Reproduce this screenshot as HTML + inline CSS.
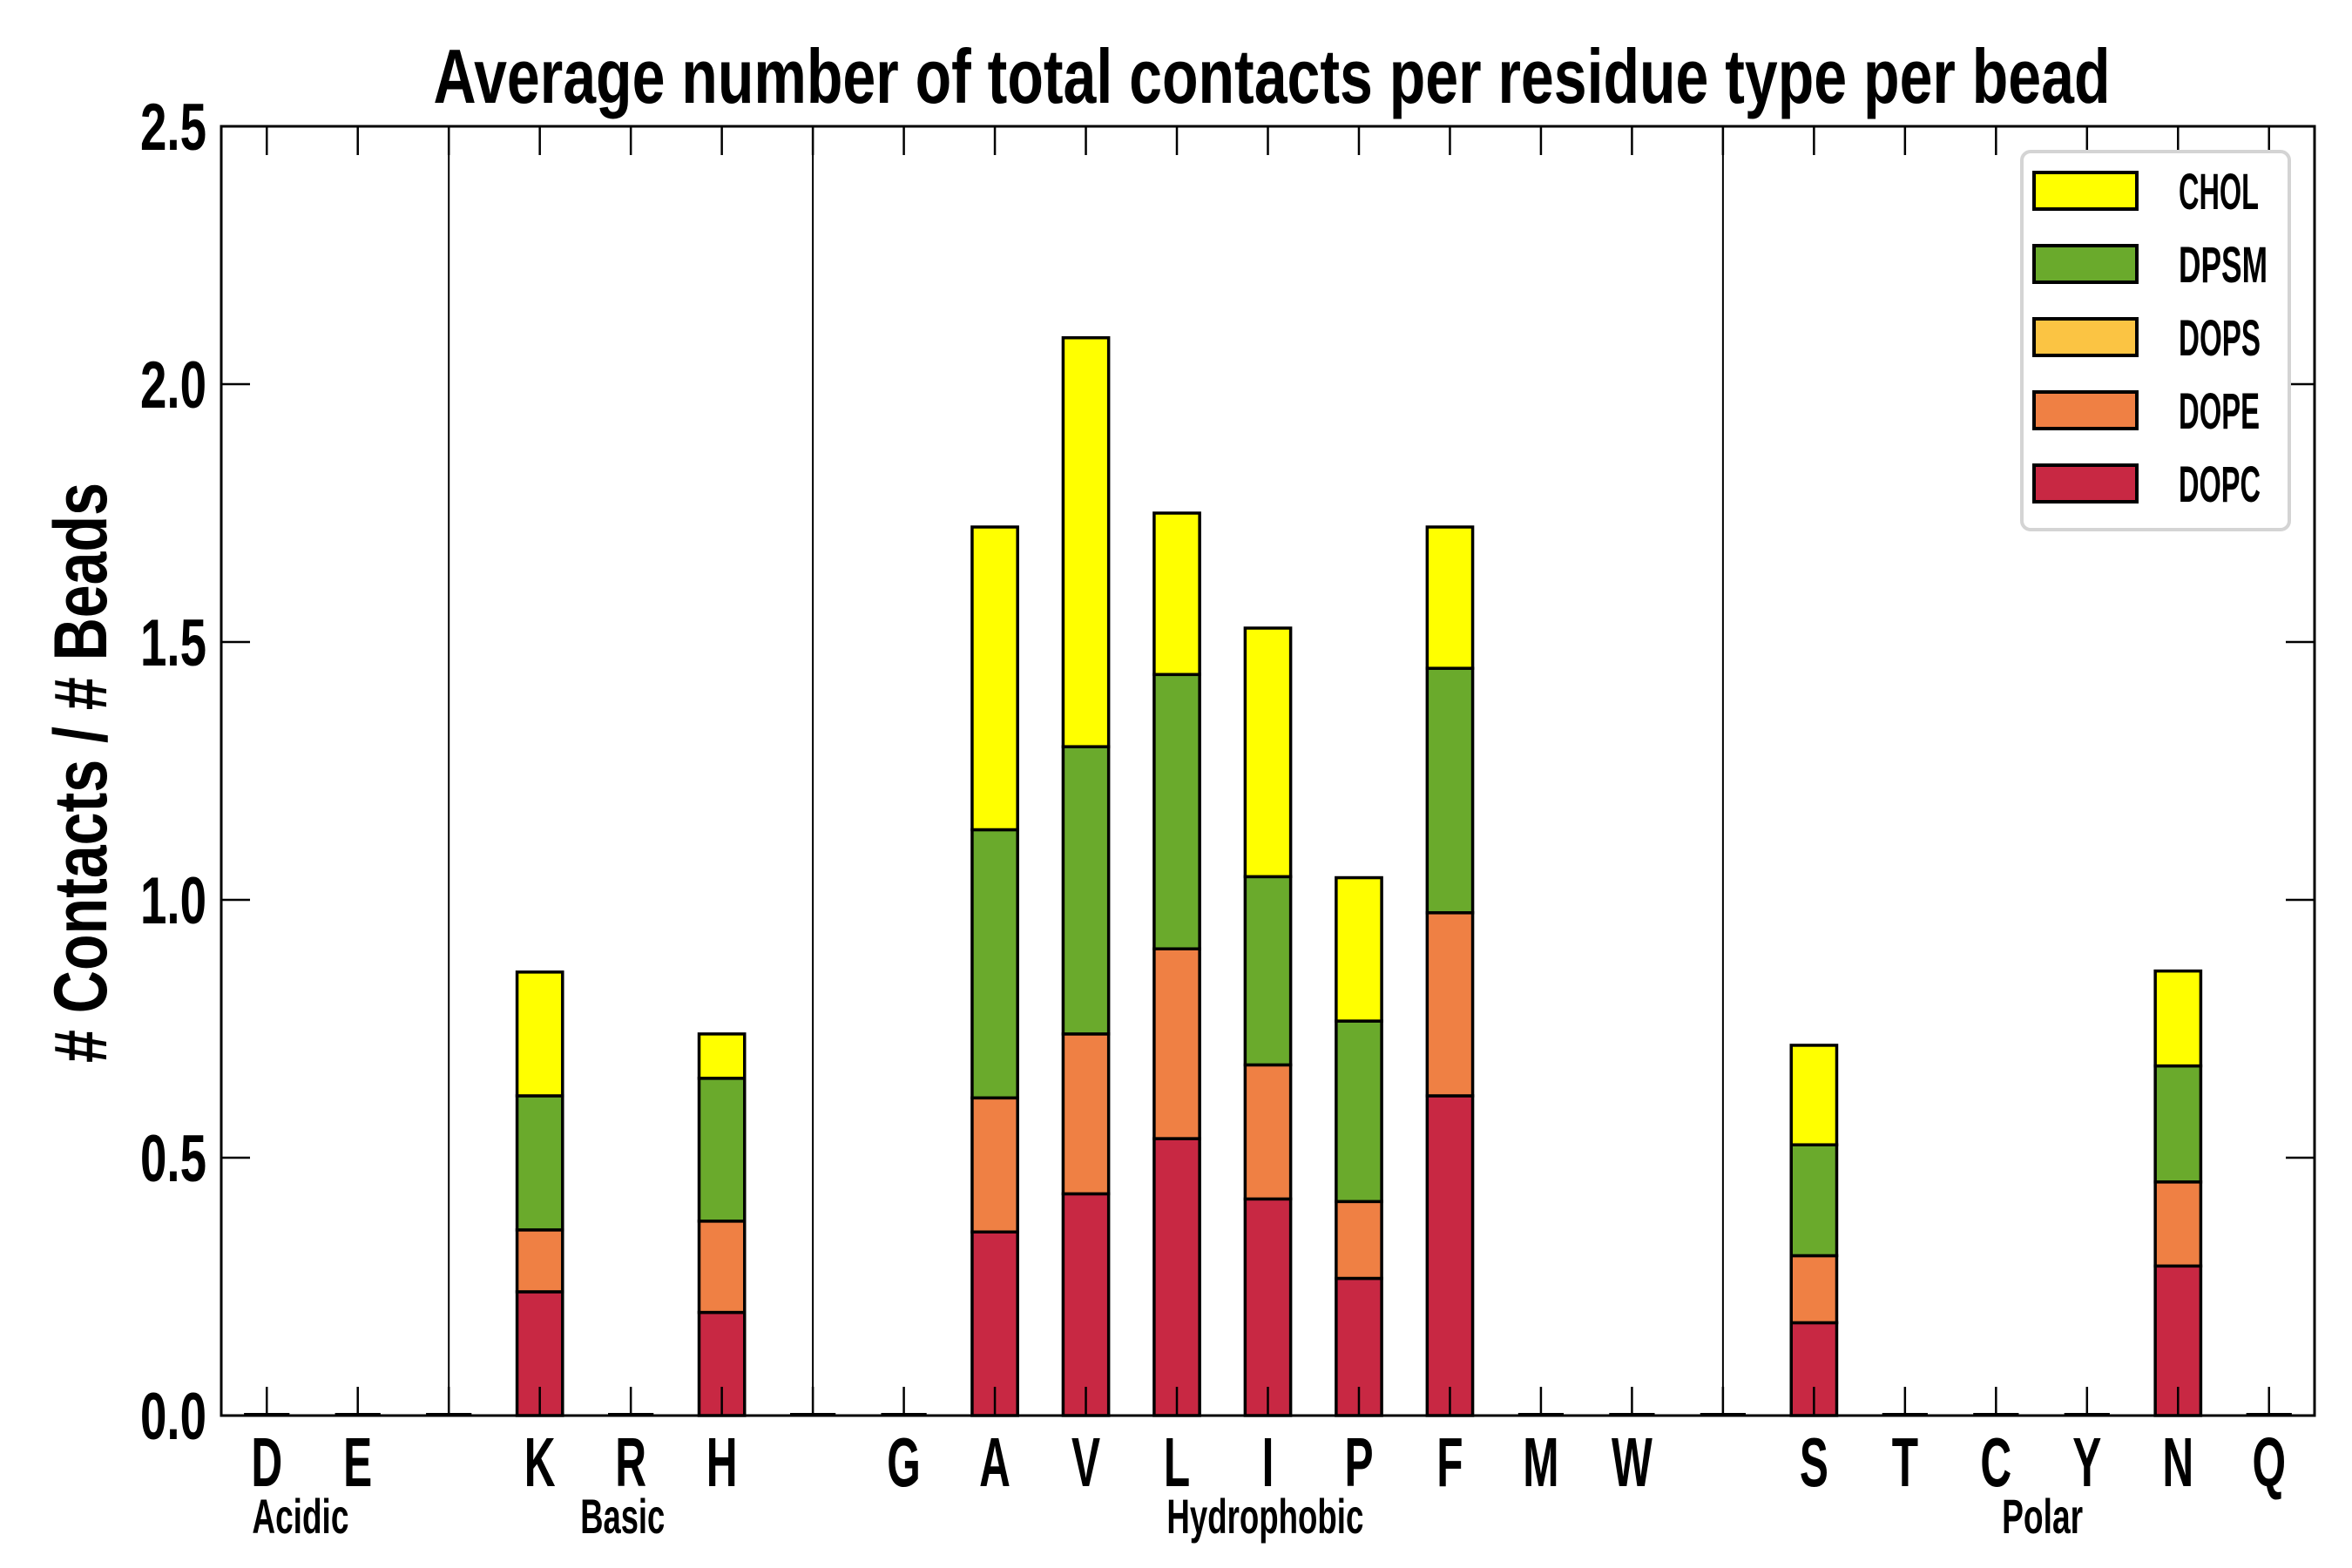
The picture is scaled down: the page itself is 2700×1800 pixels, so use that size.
<!DOCTYPE html>
<html><head><meta charset="utf-8"><style>
html,body{margin:0;padding:0;background:#fff;}
svg{display:block;font-family:"Liberation Sans Narrow","Liberation Sans",sans-serif;}
</style></head><body>
<svg id="chart" width="2700" height="1800" viewBox="0 0 2700 1800">
<rect x="0" y="0" width="2700" height="1800" fill="#fff"/>
<text x="1460" y="118" text-anchor="middle" font-size="88" font-weight="bold" textLength="1925" lengthAdjust="spacingAndGlyphs">Average number of total contacts per residue type per bead</text>
<text transform="translate(122,887) rotate(-90)" text-anchor="middle" font-size="86" font-weight="bold" textLength="666" lengthAdjust="spacingAndGlyphs"># Contacts / # Beads</text>
<g id="plot"></g>
</svg>
<script>
const categories = ["D","E","","K","R","H","","G","A","V","L","I","P","F","M","W","","S","T","C","Y","N","Q"];
const separators = [2,6,16];
const seriesNames = ["DOPC","DOPE","DOPS","DPSM","CHOL"];
const seriesColors = ["#c82843","#ef8044","#fbc443","#6aaa2c","#ffff00"];
const DOPC = [0,0,0,0.24,0,0.20,0,0,0.356,0.43,0.537,0.42,0.266,0.62,0,0,0,0.18,0,0,0,0.29,0];
const DOPE = [0,0,0,0.12,0,0.177,0,0,0.26,0.31,0.368,0.26,0.149,0.355,0,0,0,0.13,0,0,0,0.163,0];
const DOPS = [0,0,0,0,0,0,0,0,0,0,0,0,0,0,0,0,0,0,0,0,0,0,0];
const DPSM = [0,0,0,0.26,0,0.277,0,0,0.52,0.557,0.532,0.365,0.35,0.474,0,0,0,0.215,0,0,0,0.225,0];
const CHOL = [0,0,0,0.24,0,0.086,0,0,0.587,0.793,0.313,0.482,0.278,0.274,0,0,0,0.193,0,0,0,0.184,0];
const yTicks = [0,0.5,1.0,1.5,2.0,2.5];
const yTickLabels = ["0.0","0.5","1.0","1.5","2.0","2.5"];
const groupNames = ["Acidic","Basic","Hydrophobic","Polar"];
const groupCenters = [0.37,3.91,10.97,19.51];

const series = [DOPC,DOPE,DOPS,DPSM,CHOL];
const L=254,R=2657,T=145,B=1625;
const xmin=-0.5,xmax=22.5,ymin=0,ymax=2.5;
function xs(v){return L+(v-xmin)/(xmax-xmin)*(R-L);}
function ys(v){return B-(v-ymin)/(ymax-ymin)*(B-T);}
const NS="http://www.w3.org/2000/svg";
const g=document.getElementById('plot');
function mk(tag,attrs){const e=document.createElementNS(NS,tag);for(const k in attrs)e.setAttribute(k,attrs[k]);g.appendChild(e);return e;}
const slot=(R-L)/(xmax-xmin);
const bw=slot*0.5;
separators.forEach(function(s){
  const e=mk('line',{x1:xs(s),x2:xs(s),y1:T,y2:B,stroke:'#000','stroke-width':2});
  
  
});
categories.forEach(function(c,i){
  let base=0;
  series.forEach(function(arr,si){
    const v=arr[i];
    const y0=ys(base),y1=ys(base+v);
    const r=mk('rect',{x:xs(i)-bw/2,y:y1,width:bw,height:Math.max(0,y0-y1),fill:seriesColors[si],stroke:'#000','stroke-width':3.5});
    
    
    base+=v;
  });
  if(base===0){
    const z=mk('line',{x1:xs(i)-bw/2,x2:xs(i)+bw/2,y1:B-2,y2:B-2,stroke:'#000','stroke-width':2});
    
    
  }
});
categories.forEach(function(c,i){
  const t1=mk('line',{x1:xs(i),x2:xs(i),y1:B,y2:B-33,stroke:'#000','stroke-width':2.5});
  
  
  const t2=mk('line',{x1:xs(i),x2:xs(i),y1:T,y2:T+33,stroke:'#000','stroke-width':2.5});
  
  
  if(c){
    const tx=mk('text',{transform:'translate('+xs(i)+',1706) scale(0.62,1)','text-anchor':'middle','font-size':80,'font-weight':'bold'});
    tx.textContent=c;
    
    
  }
});
yTicks.forEach(function(v,i){
  const a=mk('line',{x1:L,x2:L+33,y1:ys(v),y2:ys(v),stroke:'#000','stroke-width':2.5});
  
  
  const b=mk('line',{x1:R,x2:R-33,y1:ys(v),y2:ys(v),stroke:'#000','stroke-width':2.5});
  
  
  const t=mk('text',{x:237,y:ys(v)+27,'text-anchor':'end','font-size':76,'font-weight':'bold',textLength:76,lengthAdjust:'spacingAndGlyphs'});
  t.textContent=yTickLabels[i];
  
  
});
const groupLens=[111,97,226,93];
groupNames.forEach(function(n,i){
  const t=mk('text',{x:xs(groupCenters[i])-groupLens[i]/2,y:1760,'font-size':56,'font-weight':'bold',textLength:groupLens[i],lengthAdjust:'spacingAndGlyphs'});
  t.textContent=n;
  
  
});
const fr=mk('rect',{x:L,y:T,width:R-L,height:B-T,fill:'none',stroke:'#000','stroke-width':3});


const lg=mk('rect',{x:2321,y:174,width:307,height:434,rx:10,fill:'#fff',stroke:'#d4d4d4','stroke-width':4});


const legOrder=[4,3,2,1,0];
const legLens=[92,102,94,93,94];
legOrder.forEach(function(si,k){
  const y=198+k*84;
  const p=mk('rect',{x:2335,y:y,width:118,height:42,fill:seriesColors[si],stroke:'#000','stroke-width':4});
  
  
  const t=mk('text',{x:2501,y:y+42,'font-size':58,'font-weight':'bold',textLength:legLens[k],lengthAdjust:'spacingAndGlyphs'});
  t.textContent=seriesNames[si];
  
  
});
</script>
</body></html>
